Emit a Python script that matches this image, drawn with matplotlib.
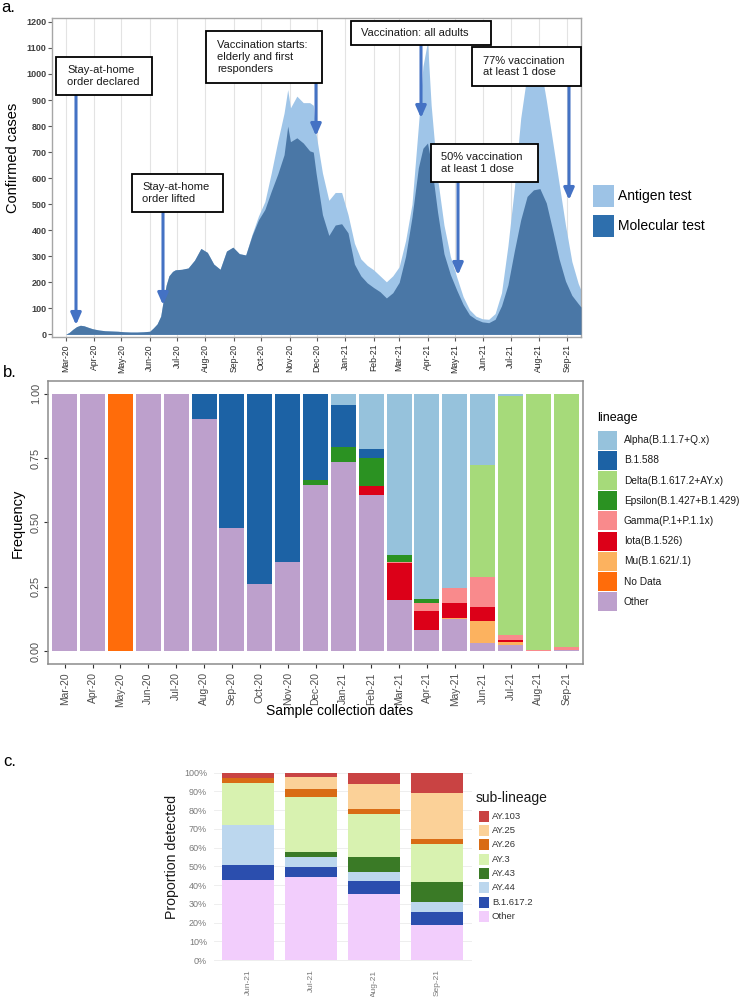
import numpy as np
import pandas as pd
import matplotlib
matplotlib.use('Agg')
import matplotlib.pyplot as plt
import matplotlib.dates as mdates
from matplotlib.patches import Rectangle
from matplotlib import font_manager

plt.rcParams['font.family'] = ['Liberation Sans', 'DejaVu Sans']
_names = {f.name for f in font_manager.fontManager.ttflist}
NARROW = 'Liberation Sans Narrow' if 'Liberation Sans Narrow' in _names else 'Liberation Sans'

# ---------------- panel a : daily confirmed cases ----------------
case_dates = [
    '2020-03-01', '2020-03-05', '2020-03-09', '2020-03-13', '2020-03-17', '2020-03-21',
    '2020-03-25', '2020-03-30', '2020-04-06', '2020-04-13', '2020-04-20', '2020-04-27',
    '2020-05-04', '2020-05-11', '2020-05-18', '2020-05-25', '2020-06-01', '2020-06-05',
    '2020-06-09', '2020-06-13', '2020-06-16', '2020-06-19', '2020-06-22', '2020-06-26',
    '2020-06-29', '2020-07-06', '2020-07-13', '2020-07-20', '2020-07-27', '2020-08-03',
    '2020-08-10', '2020-08-17', '2020-08-24', '2020-08-31', '2020-09-07', '2020-09-14',
    '2020-09-21', '2020-09-28', '2020-10-05', '2020-10-12', '2020-10-19', '2020-10-26',
    '2020-10-30', '2020-11-02', '2020-11-09', '2020-11-16', '2020-11-23', '2020-11-27',
    '2020-11-30', '2020-12-07', '2020-12-14', '2020-12-21', '2020-12-28', '2021-01-04',
    '2021-01-11', '2021-01-18', '2021-01-25', '2021-02-01', '2021-02-08', '2021-02-15',
    '2021-02-22', '2021-03-01', '2021-03-08', '2021-03-15', '2021-03-22', '2021-03-27',
    '2021-04-01', '2021-04-05', '2021-04-12', '2021-04-19', '2021-04-26', '2021-05-03',
    '2021-05-10', '2021-05-17', '2021-05-24', '2021-05-31', '2021-06-07', '2021-06-14',
    '2021-06-21', '2021-06-28', '2021-07-05', '2021-07-12', '2021-07-19', '2021-07-26',
    '2021-08-02', '2021-08-09', '2021-08-16', '2021-08-23', '2021-08-30', '2021-09-06',
    '2021-09-13', '2021-09-16']
# antigen + molecular (top of light area)
total_cases = [
    0, 8, 20, 30, 35, 33,
    28, 22, 17, 14, 13, 12,
    10, 9, 9, 10, 12, 25,
    40, 70, 135, 190, 225, 242,
    248, 250, 255, 285, 330, 315,
    270, 250, 320, 335, 310, 305,
    385, 455, 510, 620, 740, 850,
    940, 870, 915, 890, 890, 880,
    770, 620, 515, 545, 545, 460,
    350, 290, 265, 248, 225, 202,
    225, 260, 360, 500, 800, 1030,
    1124, 880, 600, 420, 300, 220,
    145, 95, 70, 60, 58, 80,
    160, 340, 560, 830, 1000, 1050,
    1045, 900, 740, 580, 420, 280,
    195, 170]
molecular_cases = [
    0, 8, 20, 30, 35, 33,
    28, 22, 17, 14, 13, 12,
    10, 9, 9, 10, 12, 25,
    40, 70, 135, 190, 225, 242,
    248, 250, 255, 285, 330, 315,
    270, 250, 320, 335, 310, 305,
    380, 440, 480, 550, 615, 690,
    800, 740, 755, 735, 705, 700,
    620, 460, 380, 420, 425, 390,
    270, 225, 198, 180, 164, 140,
    160, 200, 300, 450, 640, 715,
    735, 660, 470, 310, 230, 170,
    115, 75, 58, 48, 45, 58,
    110, 190, 320, 440, 530, 555,
    560, 505, 400, 290, 205, 150,
    118, 105]
assert len(case_dates) == len(total_cases) == len(molecular_cases)

event_texts = ['Stay-at-home\norder declared', 'Stay-at-home\norder lifted',
               'Vaccination starts:\nelderly and first\nresponders', 'Vaccination: all adults',
               '50% vaccination\nat least 1 dose', '77% vaccination\nat least 1 dose']

# ---------------- panel b : lineage frequency by month ----------------
months_b = ['Mar-20', 'Apr-20', 'May-20', 'Jun-20', 'Jul-20', 'Aug-20', 'Sep-20', 'Oct-20',
            'Nov-20', 'Dec-20', 'Jan-21', 'Feb-21', 'Mar-21', 'Apr-21', 'May-21', 'Jun-21',
            'Jul-21', 'Aug-21', 'Sep-21']
alpha    = [0, 0, 0, 0, 0, 0, 0, 0, 0, 0, 0.044, 0.214, 0.627, 0.797, 0.755, 0.278, 0.009, 0, 0]
b1588    = [0, 0, 0, 0, 0, 0.097, 0.52, 0.74, 0.652, 0.335, 0.162, 0.036, 0, 0, 0, 0, 0, 0, 0]
delta    = [0, 0, 0, 0, 0, 0, 0, 0, 0, 0, 0, 0, 0, 0, 0, 0.434, 0.930, 0.994, 0.984]
epsilon  = [0, 0, 0, 0, 0, 0, 0, 0, 0, 0.02, 0.059, 0.107, 0.025, 0.016, 0, 0, 0, 0, 0]
gamma    = [0, 0, 0, 0, 0, 0, 0, 0, 0, 0, 0, 0, 0.006, 0.032, 0.058, 0.118, 0.018, 0.004, 0.010]
iota     = [0, 0, 0, 0, 0, 0, 0, 0, 0, 0, 0, 0.037, 0.145, 0.071, 0.058, 0.051, 0.008, 0, 0]
mu       = [0, 0, 0, 0, 0, 0, 0, 0, 0, 0, 0, 0, 0, 0, 0.006, 0.087, 0.013, 0, 0]
no_data  = [0, 0, 1, 0, 0, 0, 0, 0, 0, 0, 0, 0, 0, 0, 0, 0, 0, 0, 0]
other_b  = [1, 1, 0, 1, 1, 0.903, 0.48, 0.26, 0.348, 0.645, 0.735, 0.606, 0.197, 0.084,
            0.123, 0.032, 0.022, 0.002, 0.006]
lineages = ['Alpha(B.1.1.7+Q.x)', 'B.1.588', 'Delta(B.1.617.2+AY.x)', 'Epsilon(B.1.427+B.1.429)',
            'Gamma(P.1+P.1.1x)', 'Iota(B.1.526)', 'Mu(B.1.621/.1)', 'No Data', 'Other']
lineage_vals = [alpha, b1588, delta, epsilon, gamma, iota, mu, no_data, other_b]
lineage_cols = ['#96c2dc', '#1c62a5', '#a6da7a', '#2b9222', '#f98a8c', '#dc0018',
                '#fcb25f', '#ff6c0a', '#bda0cc']

# ---------------- panel c : delta sub-lineages ----------------
months_c = ['Jun-21', 'Jul-21', 'Aug-21', 'Sep-21']
ay103   = [0.027, 0.025, 0.062, 0.107]
ay25    = [0.0, 0.064, 0.134, 0.249]
ay26    = [0.026, 0.039, 0.025, 0.025]
ay3     = [0.226, 0.294, 0.231, 0.201]
ay43    = [0.0, 0.026, 0.080, 0.107]
ay44    = [0.214, 0.057, 0.048, 0.053]
b16172  = [0.080, 0.054, 0.068, 0.071]
other_c = [0.427, 0.441, 0.352, 0.187]
sublineages = ['AY.103', 'AY.25', 'AY.26', 'AY.3', 'AY.43', 'AY.44', 'B.1.617.2', 'Other']
sub_vals = [ay103, ay25, ay26, ay3, ay43, ay44, b16172, other_c]
sub_cols = ['#c94343', '#fbd198', '#d96c15', '#d8f2b0', '#3a7a26', '#bcd7ee', '#2b4eae', '#f2cdfc']

W, H = 742, 997
fig = plt.figure(figsize=(W / 100, H / 100), dpi=100)


def fx(x):
    return x / W


def fy(y):
    return 1 - y / H


def add_ax(l, t, r, b):
    return fig.add_axes([fx(l), fy(b), (r - l) / W, (b - t) / H])


def fig_rect(l, t, r, b, **kw):
    fig.patches.append(Rectangle((fx(l), fy(b)), (r - l) / W, (b - t) / H,
                                 transform=fig.transFigure, **kw))


# ======================= a =======================
ax = add_ax(52, 18, 581, 337)
d = pd.to_datetime(case_dates)
ax.fill_between(d, 0, total_cases, color='#9fc5e8', lw=0, zorder=2)
ax.fill_between(d, 0, molecular_cases, color='#4a77a6', lw=0, zorder=3)
ax.set_xlim(pd.Timestamp('2020-02-15'), pd.Timestamp('2021-09-16'))
ax.set_ylim(-10, 1215)
ax.xaxis.set_major_locator(mdates.MonthLocator())
ax.xaxis.set_major_formatter(mdates.DateFormatter('%b-%y'))
ax.set_yticks(range(0, 1201, 100))
ax.tick_params(axis='x', labelrotation=90, labelsize=6.2, length=3, color='#595959',
               labelcolor='#262626', pad=2)
ax.tick_params(axis='y', labelsize=6.5, length=3, color='#595959', labelcolor='#404040', pad=1)
for lab in ax.get_xticklabels():
    lab.set_fontfamily(NARROW)
for lab in ax.get_yticklabels():
    lab.set_fontweight('bold')
ax.grid(axis='x', color='#e3e3e3', lw=0.8)
ax.set_axisbelow(True)
for s in ax.spines.values():
    s.set_color('#a6a6a6')
    s.set_linewidth(1.0)

fig.text(fx(13), fy(158), 'Confirmed cases', rotation=90, ha='center', va='center', fontsize=10.5)
fig.text(fx(1), fy(8), 'a.', ha='left', va='center', fontsize=12)

box_geo = [(56, 57, 152, 95, 67), (132, 174, 223, 212, 142), (206, 31, 322, 83, 217),
           (351, 21, 491, 45, 361), (431, 144, 538, 182, 441), (472, 47, 581, 86, 483)]
arrow_geo = [(76, 95, 325), (163, 212, 305), (316, 83, 136),
             (421, 45, 118), (458, 182, 275), (569, 86, 200)]
for (l, t, r, b, tx), txt in zip(box_geo, event_texts):
    fig_rect(l, t, r, b, fc='white', ec='black', lw=1.3, zorder=5)
    fig.text(fx(tx), fy((t + b) / 2), txt, ha='left', va='center', fontsize=8,
             color='#1a1a1a', linespacing=1.2, zorder=6)
for x, y0, y1 in arrow_geo:
    ax.annotate('', xy=(fx(x), fy(y1)), xytext=(fx(x), fy(y0)), xycoords='figure fraction',
                textcoords='figure fraction', annotation_clip=False,
                arrowprops=dict(arrowstyle='-|>,head_length=0.5,head_width=0.22',
                                color='#4472c4', lw=2.2, mutation_scale=14,
                                shrinkA=0, shrinkB=0), zorder=4)

fig_rect(593, 185, 614, 207, fc='#9dc3e6', ec='none')
fig_rect(593, 215, 614, 237, fc='#2e6fad', ec='none')
fig.text(fx(618), fy(196), 'Antigen test', ha='left', va='center', fontsize=10)
fig.text(fx(618), fy(226), 'Molecular test', ha='left', va='center', fontsize=10)

# ======================= b =======================
axb = add_ax(48, 381, 583, 664)
xb = np.arange(len(months_b))
bottom = np.zeros(len(xb))
for name, vals, col in reversed(list(zip(lineages, lineage_vals, lineage_cols))):
    vals = np.array(vals, dtype=float)
    axb.bar(xb, vals, 0.9, bottom=bottom, color=col, lw=0)
    bottom += vals
axb.set_xlim(-0.6, len(months_b) - 0.4)
axb.set_ylim(-0.05, 1.05)
axb.set_xticks(xb)
axb.set_xticklabels(months_b, rotation=90)
axb.set_yticks([0, 0.25, 0.5, 0.75, 1.0])
axb.set_yticklabels(['0.00', '0.25', '0.50', '0.75', '1.00'], rotation=90, va='center')
axb.tick_params(axis='x', labelsize=7.4, length=3, color='#333333', labelcolor='#4d4d4d', pad=3)
axb.tick_params(axis='y', labelsize=7.8, length=3, color='#333333', labelcolor='#4d4d4d', pad=2)
for s in axb.spines.values():
    s.set_color('#8c8c8c')
    s.set_linewidth(1.1)
fig.text(fx(18), fy(523), 'Frequency', rotation=90, ha='center', va='center', fontsize=10.5)
fig.text(fx(340), fy(711), 'Sample collection dates', ha='center', va='center', fontsize=10)
fig.text(fx(3), fy(372), 'b.', ha='left', va='center', fontsize=12)

fig.text(fx(597), fy(418), 'lineage', ha='left', va='center', fontsize=9)
for i, (name, col) in enumerate(zip(lineages, lineage_cols)):
    top = 430.7 + 20.2 * i
    fig_rect(598, top, 617, top + 19, fc=col, ec='none')
    fig.text(fx(624), fy(top + 9.5), name, ha='left', va='center', fontsize=7.3, color='#1a1a1a')

# ======================= c =======================
axc = add_ax(214, 763.3, 472, 969.4)
xc = np.arange(len(months_c))
bottom = np.zeros(len(xc))
for name, vals, col in reversed(list(zip(sublineages, sub_vals, sub_cols))):
    vals = np.array(vals, dtype=float)
    axc.bar(xc, vals, 0.83, bottom=bottom, color=col, lw=0, zorder=2)
    bottom += vals
axc.set_xlim(-0.54, 3.55)
axc.set_ylim(-0.05, 1.05)
axc.set_xticks(xc)
axc.set_xticklabels(months_c, rotation=90, va='top')
axc.set_yticks(np.arange(0, 1.01, 0.1))
axc.set_yticklabels(['%d%%' % v for v in range(0, 101, 10)])
axc.tick_params(axis='both', length=0, labelsize=6.5, labelcolor='#7a7a7a')
axc.tick_params(axis='x', labelsize=6.0, pad=0)
axc.tick_params(axis='y', pad=5)
axc.grid(axis='y', color='#ebebeb', lw=0.6, zorder=0)
axc.set_axisbelow(True)
for s in axc.spines.values():
    s.set_visible(False)
fig.text(fx(172), fy(857), 'Proportion detected', rotation=90, ha='center', va='center',
         fontsize=10.2, color='#1a1a1a')
fig.text(fx(3), fy(761), 'c.', ha='left', va='center', fontsize=12)

fig.text(fx(476), fy(798), 'sub-lineage', ha='left', va='center', fontsize=10, color='#1a1a1a')
for i, (name, col) in enumerate(zip(sublineages, sub_cols)):
    top = 810.7 + 14.3 * i
    fig_rect(479, top, 489, top + 11, fc=col, ec='none')
    fig.text(fx(492), fy(top + 5.5), name, ha='left', va='center', fontsize=6.8, color='#333333')

fig.savefig('out.png', dpi=100)
